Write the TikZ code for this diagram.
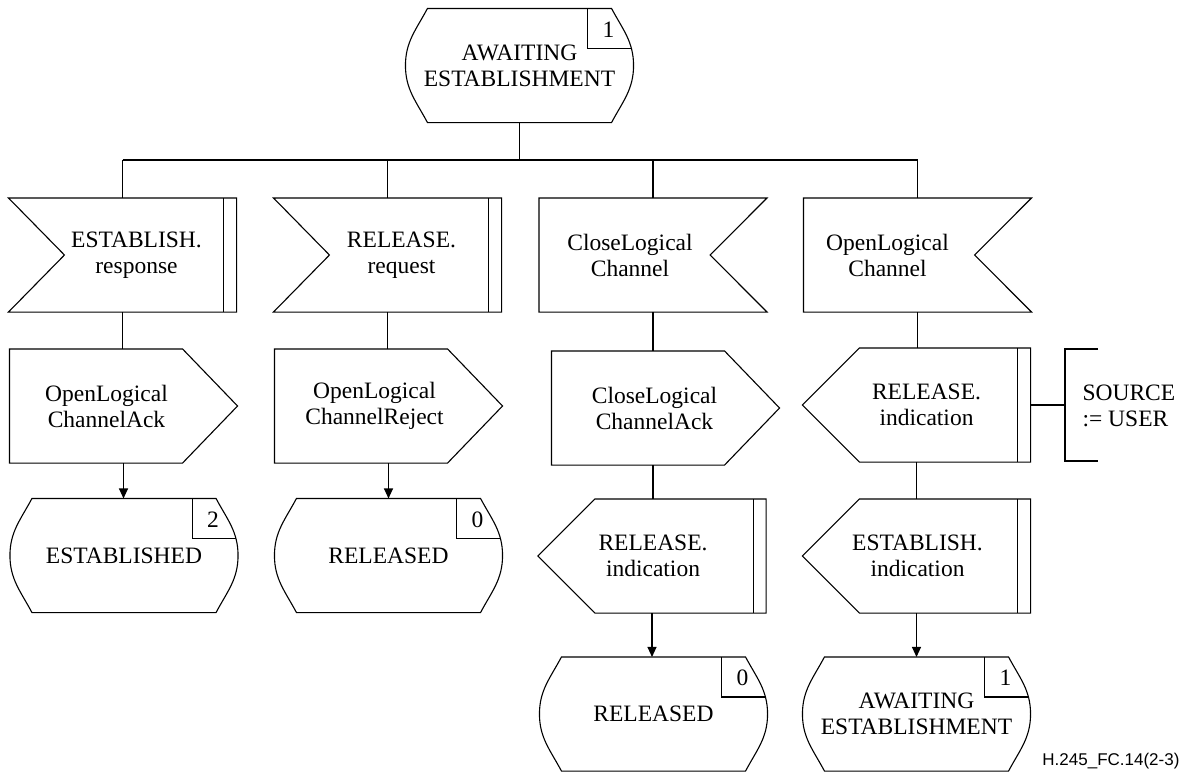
\documentclass[tikz,border=0pt]{standalone}
\usepackage{fontspec}
\setmainfont{Liberation Serif}
\newfontfamily\figfont{Liberation Sans}
\usetikzlibrary{calc,arrows.meta}
\tikzset{
  sym/.style={minimum width=227pt,minimum height=113pt,inner sep=0pt},
  txt/.style={align=center,inner sep=0pt,font=\fontsize{23.5}{26}\selectfont},
  flow/.style={-{Triangle[length=10pt,width=9pt]}},
  }
% state: name, position, number, text
\newcommand{\sdlstate}[4]{%
  \node[sym] (#1) at (#2) {};
  \node[txt] (#1-t) at (#1.center) {#4};
  \draw ($(#1.north west)+(22,0)$) -- ($(#1.north east)+(-22,0)$) to[out=-62,in=90] (#1.east)
        to[out=-90,in=62] ($(#1.south east)+(-22,0)$) -- ($(#1.south west)+(22,0)$)
        to[out=118,in=-90] (#1.west) to[out=90,in=-118] cycle;
  \draw ($(#1.north east)+(-46,0)$) |- ($(#1.north east)+(-2,-40)$);
  \node[txt] (#1-n) at ($(#1.north east)+(-25,-21)$) {#3};
}
% input, notch left, double bar: name, position, text shift, text
\newcommand{\sdlinput}[4]{%
  \node[sym] (#1) at (#2) {};
  \node[txt] (#1-t) at ($(#1.center)+(#3,0)$) {#4};
  \draw (#1.north west) -- (#1.north east) -- (#1.south east) -- (#1.south west) -- ($(#1.west)+(56,0)$) -- cycle;
  \draw ($(#1.north east)+(-13,0)$) -- ($(#1.south east)+(-13,0)$);
}
% input, notch right
\newcommand{\sdlinputR}[4]{%
  \node[sym] (#1) at (#2) {};
  \node[txt] (#1-t) at ($(#1.center)+(#3,0)$) {#4};
  \draw (#1.north west) -- (#1.north east) -- ($(#1.east)+(-57,0)$) -- (#1.south east) -- (#1.south west) -- cycle;
}
% output, pointing right
\newcommand{\sdloutput}[4]{%
  \node[sym] (#1) at (#2) {};
  \node[txt] (#1-t) at ($(#1.center)+(#3,0)$) {#4};
  \draw (#1.north west) -- ($(#1.north east)+(-55,0)$) -- (#1.east) -- ($(#1.south east)+(-55,0)$) -- (#1.south west) -- cycle;
}
% output, pointing left, double bar
\newcommand{\sdloutputL}[4]{%
  \node[sym] (#1) at (#2) {};
  \node[txt] (#1-t) at ($(#1.center)+(#3,0)$) {#4};
  \draw ($(#1.north west)+(57,0)$) -- (#1.north east) -- (#1.south east) -- ($(#1.south west)+(57,0)$) -- (#1.west) -- cycle;
  \draw ($(#1.north east)+(-13,0)$) -- ($(#1.south east)+(-13,0)$);
}

\begin{document}
\begin{tikzpicture}[x=1pt,y=1pt,line width=1.1pt]
            \useasboundingbox (0,0) rectangle (1184,-774);

            % Symbols
            \sdlstate{s0}{519.5,-65.5}{1}{AWAITING\\ESTABLISHMENT}

            \sdlinput{in1}{122.5,-255}{14}{ESTABLISH.\\response}
            \sdlinput{in2}{387.5,-255}{14}{RELEASE.\\request}
            \sdlinputR{in3}{653,-255}{-23}{CloseLogical\\Channel}
            \sdlinputR{in4}{917.5,-255}{-30}{OpenLogical\\Channel}

            \sdloutput{out1}{123.5,-406}{-17}{OpenLogical\\ChannelAck}
            \sdloutput{out2}{388.5,-406}{-14}{OpenLogical\\ChannelReject}
            \sdloutput{out3}{665.5,-408}{-11}{CloseLogical\\ChannelAck}
            \sdloutputL{out4}{916.5,-405}{10}{RELEASE.\\indication}
            \sdloutputL{out5}{652,-556}{1}{RELEASE.\\indication}
            \sdloutputL{out6}{916.5,-556}{1}{ESTABLISH.\\indication}

            \sdlstate{st1}{124,-555.5}{2}{ESTABLISHED}
            \sdlstate{st2}{388.5,-555.5}{0}{RELEASED}
            \sdlstate{st3}{653.5,-714}{0}{RELEASED}
            \sdlstate{st4}{916.5,-714}{1}{AWAITING\\ESTABLISHMENT}

            % Bus
            \coordinate (bus) at (0,-160);
            \draw (s0.south) -- (s0.south |- bus);
            \draw (in1.north |- bus) -- (in4.north |- bus);
            \foreach \n in {in1,in2,in3,in4}
                \draw (\n.north) -- (\n.north |- bus);

            % Columns
            \draw (in1.south) -- (in1.south |- out1.north);
            \draw[flow] (out1.south) -- (out1.south |- st1.north);
            \draw (in2.south) -- (in2.south |- out2.north);
            \draw[flow] (out2.south) -- (out2.south |- st2.north);
            \draw (in3.south) -- (in3.south |- out3.north);
            \draw (in3.south |- out3.south) -- (in3.south |- out5.north);
            \draw[flow] (out5.south) -- (out5.south |- st3.north);
            \draw (in4.south) -- (in4.south |- out4.north);
            \draw (out4.south) -- (out4.south |- out6.north);
            \draw[flow] (out6.south) -- (out6.south |- st4.north);

            % Comment
            \coordinate (cmb) at (1065,-405);
            \draw (out4.east) -- (cmb);
            \draw ($(cmb)+(33,56)$) -- ($(cmb)+(0,56)$) -- ($(cmb)+(0,-56)$) -- ($(cmb)+(33,-56)$);
            \node[txt,anchor=west,align=left] (cm) at (1082,-406) {SOURCE\\:= USER};

            % Figure label
            \node[anchor=east,inner sep=0pt,font=\figfont\fontsize{17}{20}\selectfont] (fig) at (1180,-761) {H.245\_FC.14(2-3)};
\end{tikzpicture}
\end{document}
